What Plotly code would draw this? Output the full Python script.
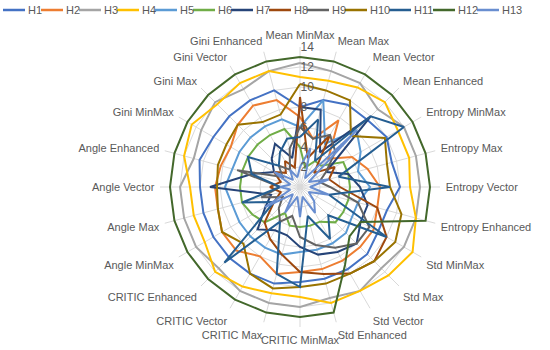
import plotly.graph_objects as go

categories = ["Mean MinMax", "Mean Max", "Mean Vector", "Mean Enhanced",
              "Entropy MinMax", "Entropy Max", "Entropy Vector", "Entropy Enhanced",
              "Std MinMax", "Std Max", "Std Vector", "Std Enhanced",
              "CRITIC MinMax", "CRITIC Max", "CRITIC Vector", "CRITIC Enhanced",
              "Angle MinMax", "Angle Max", "Angle Vector", "Angle Enhanced",
              "Gini MinMax", "Gini Max", "Gini Vector", "Gini Enhanced"]

series_names = ["H1", "H2", "H3", "H4", "H5", "H6", "H7", "H8", "H9", "H10", "H11", "H12", "H13"]

H1 = [8, 9, 9.5, 9.5, 10, 9.5, 10, 9, 9, 9.5, 9.5, 9.5, 9.5, 10, 10, 10, 10, 10, 10, 10.4, 10, 10, 10, 10]
H2 = [7, 5, 7.7, 4, 6, 7, 8, 8, 8.5, 8.5, 8.5, 8.5, 8.5, 9, 8, 9, 9, 8.5, 8.5, 8.2, 8, 8.8, 9.4, 9]
H3 = [12.4, 12, 12, 11, 12, 12, 12, 12, 12, 11.5, 12, 11.5, 12, 12, 12, 11.5, 12, 12, 12, 11, 11.4, 12, 11.3, 12]
H4 = [11, 11, 11.5, 12, 11.3, 11.3, 11, 12, 13, 12.5, 12, 12, 11, 11, 11.5, 12, 11, 11, 11, 12, 12.5, 11.7, 12, 12]
H5 = [6, 9, 5, 8, 7, 6, 7, 6, 6, 6.5, 6.5, 6.5, 6.5, 7, 7, 7, 7, 7, 7.5, 7, 7, 7, 7, 7]
H6 = [4, 2, 3, 3, 5, 5, 5, 5, 5, 5, 4, 4, 4, 4, 3, 5, 5.5, 6, 6, 6, 6, 6, 6, 6]
H7 = [8, 8, 4, 10, 3, 5, 6, 7, 7, 8, 7.5, 7, 6, 5, 5, 6, 4, 3, 9, 5, 3, 4, 5, 3]
H8 = [9, 3, 6, 2, 4, 3, 4, 8, 10, 10.5, 10, 9, 8.5, 7, 6, 5, 3, 2, 3, 2, 3, 2, 3, 2]
H9 = [6, 5, 6, 5, 3, 2, 3, 6, 8, 8, 7, 6, 5, 3, 4, 3, 2, 4, 2, 6.5, 2, 3, 2, 4]
H10 = [10.3, 10, 10, 7.2, 9.8, 9, 9, 10.5, 11, 10.5, 10, 10, 10, 10.5, 10, 8, 9, 8.5, 8.3, 8.5, 8.5, 8.8, 7.5, 7.5]
H11 = [5, 7, 3, 10, 12, 4, 9, 3, 10, 4, 6, 3, 10, 9, 4, 10.7, 3, 6, 2, 5, 6, 3, 4, 5]
H12 = [13, 13, 13, 13, 13, 13, 13, 13, 7, 7, 9, 13, 13, 13, 13, 13, 13, 13, 13, 13, 13, 13, 13, 13]
H13 = [2, 4, 1, 8, 1, 3, 1, 3, 1, 2, 3, 1, 3, 1, 3, 1, 4, 1, 2, 1, 3, 1, 2, 1]

radial_ticks = [2, 4, 6, 8, 10, 12, 14]

series_values = [H1, H2, H3, H4, H5, H6, H7, H8, H9, H10, H11, H12, H13]
colors = ["#4472C4", "#ED7D31", "#A5A5A5", "#FFC000", "#5B9BD5", "#70AD47",
          "#264478", "#9E480E", "#636363", "#997300", "#255E91", "#43682B", "#698ED0"]

FONT = "Liberation Sans"
TXT = "#595959"

fig = go.Figure()
for name, vals, col in zip(series_names, series_values, colors):
    fig.add_trace(go.Scatterpolar(
        r=vals + [vals[0]], theta=categories + [categories[0]],
        mode="lines", name=name, line=dict(color=col, width=2),
        showlegend=False))

# legend drawn as line + text entries in a row at the top
x = 3.0
W = 550.0
for name, col in zip(series_names, colors):
    fig.add_shape(type="line", xref="paper", yref="paper",
                  x0=x / W, x1=(x + 22) / W, y0=1 - 10 / 350, y1=1 - 10 / 350,
                  line=dict(color=col, width=2.5))
    fig.add_annotation(x=(x + 23) / W, y=1 - 10 / 350, xref="paper", yref="paper",
                       text=name, showarrow=False, xanchor="left", yanchor="middle",
                       font=dict(family=FONT, size=11, color=TXT))
    x += 26 + 6 * len(name)

cx, cy, R = 300, 187, 140
fig.update_layout(
    width=550, height=350,
    margin=dict(l=0, r=0, t=0, b=0),
    paper_bgcolor="white", plot_bgcolor="white",
    font=dict(family=FONT, size=11, color=TXT),
    polar=dict(
        domain=dict(x=[(cx - R) / 550, (cx + R) / 550],
                    y=[(350 - cy - R) / 350, (350 - cy + R) / 350]),
        bgcolor="white",
        gridshape="linear",
        angularaxis=dict(rotation=90, direction="clockwise",
                         gridcolor="#D9D9D9", linecolor="#D9D9D9", linewidth=1,
                         showline=False,
                         tickfont=dict(family=FONT, size=11, color=TXT),
                         ticks="outside", ticklen=3, tickcolor="rgba(0,0,0,0)"),
        radialaxis=dict(range=[0, 14], tickvals=radial_ticks,
                        angle=90, side="clockwise",
                        showline=False, gridcolor="#D9D9D9", ticks="",
                        tickangle=90,
                        tickfont=dict(family=FONT, size=12, color=TXT)),
    ),
)

fig.write_html("out.html", config={"displayModeBar": False},
               post_script="document.body.style.margin='0px';")
